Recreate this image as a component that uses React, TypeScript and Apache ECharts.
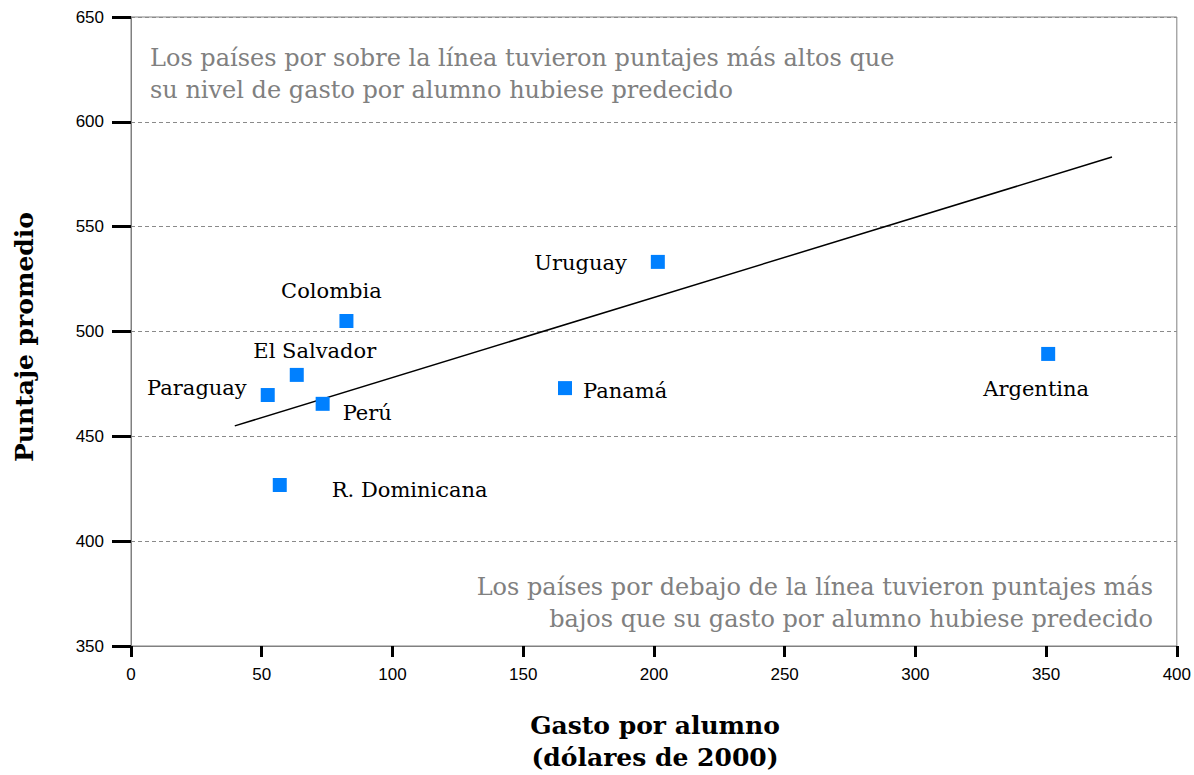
import React, { useEffect, useRef } from "react";
import * as echarts from "echarts";

const countries = ["Paraguay", "El Salvador", "Perú", "Colombia", "R. Dominicana", "Panamá", "Uruguay", "Argentina"];
const spending = [52.3, 63.4, 73.3, 82.4, 56.9, 166, 201.5, 350.8];
const scores = [469.7, 479.3, 465.5, 505, 426.8, 473, 533.2, 489.3];
const labelPos = ["left", "top", "right", "top", "right", "right", "left", "bottom"];
const labelOffset = [[-9, -7], [18, -1], [8, 9], [-15, -8], [40, 5], [6, 3], [-19, 1], [-12, 13]];
const trendX = [39.7, 375.2];
const trendY = [455, 583.2];
const xTicks = [0, 50, 100, 150, 200, 250, 300, 350, 400];
const yTicks = [350, 400, 450, 500, 550, 600, 650];

export default function App() {
  const ref = useRef<HTMLDivElement>(null);
  useEffect(() => {
    if (!ref.current) return;
    const chart = echarts.init(ref.current, null, { renderer: "svg" });
    const serif = "'DejaVu Serif', serif";
    const tickFont = "'Liberation Sans', Arial, sans-serif";
    chart.setOption({
      animation: false,
      backgroundColor: "#ffffff",
      grid: { left: 131, top: 17, right: 15, bottom: 129, show: true, borderColor: "#808080", borderWidth: 1 },
      xAxis: {
        type: "value",
        min: xTicks[0],
        max: xTicks[xTicks.length - 1],
        interval: 50,
        axisLine: { show: true, lineStyle: { color: "#808080", width: 1 } },
        axisTick: { show: true, length: 11, lineStyle: { color: "#000", width: 3 } },
        axisLabel: { margin: 20, color: "#000", fontSize: 17, fontFamily: tickFont },
        splitLine: { show: false },
      },
      yAxis: {
        type: "value",
        min: yTicks[0],
        max: yTicks[yTicks.length - 1],
        interval: 50,
        axisLine: { show: true, lineStyle: { color: "#808080", width: 1 } },
        axisTick: { show: true, length: 19, lineStyle: { color: "#000", width: 3 } },
        axisLabel: { margin: 27, color: "#000", fontSize: 17, fontFamily: tickFont },
        splitLine: { show: true, lineStyle: { color: "#8a8a8a", type: [4, 3], width: 1 } },
      },
      series: [
        {
          type: "line",
          data: trendX.map((x, i) => [x, trendY[i]]),
          showSymbol: false,
          symbol: "none",
          lineStyle: { color: "#000", width: 1.5 },
          silent: true,
          z: 2,
        },
        {
          type: "scatter",
          symbol: "rect",
          symbolSize: 14,
          itemStyle: { color: "#0080ff", opacity: 1 },
          z: 3,
          data: countries.map((c, i) => ({
            name: c,
            value: [spending[i], scores[i]],
            label: {
              show: true,
              position: labelPos[i],
              offset: labelOffset[i],
              formatter: "{b}",
              color: "#000",
              fontSize: 21,
              fontFamily: serif,
            },
          })),
        },
      ],
      graphic: [
        {
          type: "text",
          left: 150,
          top: 42,
          style: {
            text: "Los países por sobre la línea tuvieron puntajes más altos que\nsu nivel de gasto por alumno hubiese predecido",
            fill: "#808080",
            font: `24px ${serif}`,
            lineHeight: 32,
          },
        },
        {
          type: "text",
          x: 1153,
          y: 587,
          style: {
            text: "Los países por debajo de la línea tuvieron puntajes más",
            fill: "#808080",
            font: `24px ${serif}`,
            align: "right",
            verticalAlign: "middle",
          },
        },
        {
          type: "text",
          x: 1153,
          y: 619,
          style: {
            text: "bajos que su gasto por alumno hubiese predecido",
            fill: "#808080",
            font: `24px ${serif}`,
            align: "right",
            verticalAlign: "middle",
          },
        },
        {
          type: "text",
          x: 655,
          y: 741,
          style: {
            text: "Gasto por alumno\n(dólares de 2000)",
            fill: "#000",
            font: `bold 25px ${serif}`,
            align: "center",
            verticalAlign: "middle",
            lineHeight: 32,
          },
        },
        {
          type: "text",
          x: 24,
          y: 337,
          rotation: Math.PI / 2,
          style: {
            text: "Puntaje promedio",
            fill: "#000",
            font: `bold 25px ${serif}`,
            align: "center",
            verticalAlign: "middle",
          },
        },
      ],
    });
    return () => chart.dispose();
  }, []);
  return <div ref={ref} style={{ width: 1194, height: 775, position: "absolute", left: 0, top: 0 }} />;
}
